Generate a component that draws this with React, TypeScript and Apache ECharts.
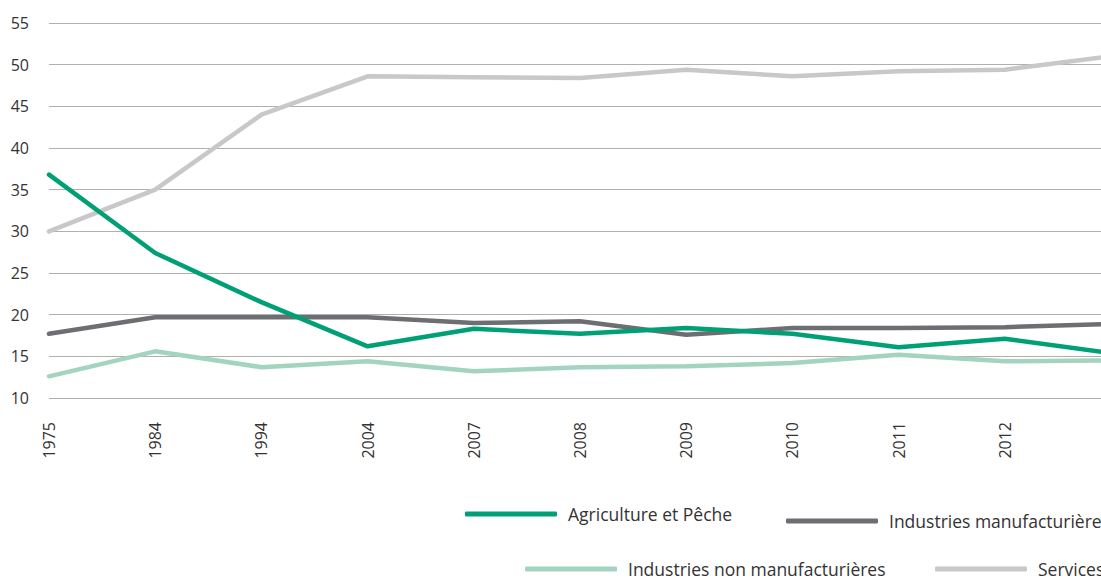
import React, { useEffect, useRef } from "react";
import * as echarts from "echarts";

const years = ["1975", "1984", "1994", "2004", "2007", "2008", "2009", "2010", "2011", "2012", "2013"];
const agriculture = [36.8, 27.4, 21.5, 16.2, 18.3, 17.7, 18.4, 17.7, 16.1, 17.1, 15.4];
const manufacturieres = [17.7, 19.7, 19.7, 19.7, 19.0, 19.2, 17.6, 18.4, 18.4, 18.5, 18.9];
const nonManufacturieres = [12.6, 15.6, 13.7, 14.4, 13.2, 13.7, 13.8, 14.2, 15.2, 14.4, 14.5];
const services = [30.0, 35.0, 44.0, 48.6, 48.5, 48.4, 49.4, 48.6, 49.2, 49.4, 51.0];

const names = ["Agriculture et Pêche", "Industries manufacturières", "Industries non manufacturières", "Services"];
const colors = ["#00a077", "#6d6e71", "#a3d4c0", "#c8c8c8"];

const FONT = "Open Sans";

export default function App() {
  const ref = useRef<HTMLDivElement>(null);
  useEffect(() => {
    if (!ref.current) return;
    const chart = echarts.init(ref.current, null, { renderer: "svg" });
    const seriesData = [agriculture, manufacturieres, nonManufacturieres, services];
    const legendPos = [
      { left: 460, top: 500 },
      { left: 781, top: 507 },
      { left: 520, top: 555 },
      { left: 930, top: 555 },
    ];
    chart.setOption({
      animation: false,
      grid: { left: 49, right: -10, top: 23, bottom: 182, containLabel: false, outerBoundsMode: "none" },
      legend: names.map((n, i) => ({
        data: [n],
        left: legendPos[i].left,
        top: legendPos[i].top,
        icon: "roundRect",
        itemWidth: 92,
        itemHeight: 5,
        itemGap: 0,
        textStyle: { fontFamily: FONT, fontSize: 17.5, color: "#333", padding: [0, 0, 0, 6] },
      })),
      xAxis: {
        type: "category",
        data: years,
        boundaryGap: false,
        axisLine: { show: false },
        axisTick: { show: false },
        axisLabel: { rotate: 90, fontFamily: FONT, fontSize: 16, color: "#333", margin: 24 },
      },
      yAxis: {
        type: "value",
        min: 10,
        max: 55,
        interval: 5,
        axisLine: { show: false },
        axisTick: { show: false },
        axisLabel: { fontFamily: FONT, fontSize: 16, color: "#333", margin: 20 },
        splitLine: { lineStyle: { color: "#b0b0b0", width: 1 } },
      },
      series: names.map((n, i) => ({
        name: n,
        type: "line",
        data: seriesData[i],
        symbol: "none",
        color: colors[i],
        lineStyle: { width: 4.5, color: colors[i], cap: "round", join: "round" },
        z: [4, 3, 2, 1][i],
      })),
    });
    return () => chart.dispose();
  }, []);
  return (
    <div
      ref={ref}
      style={{ position: "fixed", left: 0, top: 0, width: 1101, height: 580, overflow: "hidden", background: "#fff" }}
    />
  );
}
